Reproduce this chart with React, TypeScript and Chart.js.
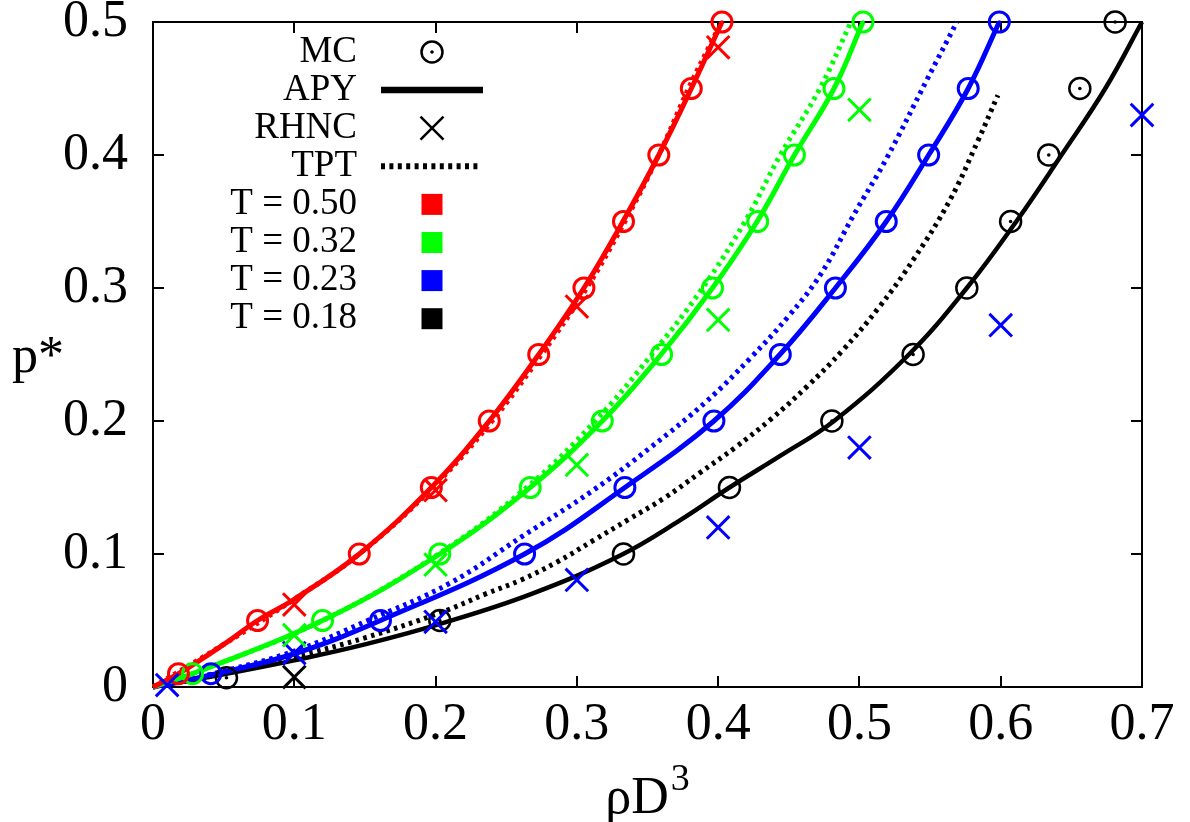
import React, { useEffect, useRef } from 'react';
import { Chart, registerables } from 'chart.js';

Chart.register(...registerables);

// ---- tick labels ----
const xTicks = [0, 0.1, 0.2, 0.3, 0.4, 0.5, 0.6, 0.7];
const yTicks = [0, 0.1, 0.2, 0.3, 0.4, 0.5];

// ---- MC (circles) ----
const mcP = [0.01, 0.05, 0.1, 0.15, 0.2, 0.25, 0.3, 0.35, 0.4, 0.45, 0.5];
const mcRedX = [0.018, 0.074, 0.146, 0.197, 0.238, 0.273, 0.305, 0.333, 0.358, 0.381, 0.4027];
const mcGreenX = [0.028, 0.12, 0.203, 0.267, 0.318, 0.36, 0.396, 0.428, 0.454, 0.482, 0.5025];
const mcBlueX = [0.041, 0.161, 0.263, 0.334, 0.397, 0.444, 0.483, 0.519, 0.549, 0.577, 0.599];
const mcBlackX = [0.052, 0.203, 0.333, 0.408, 0.4805, 0.538, 0.576, 0.607, 0.634, 0.656, 0.681];
const mcBlackP = [0.007, 0.05, 0.1, 0.15, 0.2, 0.25, 0.3, 0.35, 0.4, 0.45, 0.5];

// ---- RHNC (crosses) ----
const rhncRedX = [0.1, 0.2, 0.3, 0.4];
const rhncRedP = [0.062, 0.148, 0.286, 0.481];
const rhncGreenX = [0.1, 0.2, 0.3, 0.4, 0.5];
const rhncGreenP = [0.039, 0.092, 0.167, 0.276, 0.434];
const rhncBlueX = [0.01, 0.1, 0.2, 0.3, 0.4, 0.5, 0.6, 0.7];
const rhncBlueP = [0.0015, 0.0255, 0.049, 0.0805, 0.12, 0.18, 0.272, 0.43];
const rhncBlackX = [0.1];
const rhncBlackP = [0.0075];

// ---- APY (solid) ----
const apyRedX = [0, 0.018, 0.05, 0.074, 0.1, 0.146, 0.197, 0.238, 0.273, 0.305, 0.3326, 0.358, 0.381, 0.4027];
const apyRedP = [0, 0.01, 0.032, 0.05, 0.066, 0.1, 0.15, 0.2, 0.25, 0.3, 0.35, 0.4, 0.45, 0.5];
const apyGreenX = [0, 0.028, 0.12, 0.203, 0.267, 0.318, 0.3596, 0.396, 0.4276, 0.454, 0.482, 0.5025];
const apyGreenP = [0, 0.01, 0.05, 0.1, 0.15, 0.2, 0.25, 0.3, 0.35, 0.4, 0.45, 0.5];
const apyBlueX = [0, 0.041, 0.1, 0.161, 0.263, 0.334, 0.397, 0.4437, 0.483, 0.519, 0.549, 0.577, 0.599];
const apyBlueP = [0, 0.009, 0.025, 0.05, 0.1, 0.15, 0.2, 0.25, 0.3, 0.35, 0.4, 0.45, 0.5];
const apyBlackX = [0, 0.05, 0.1, 0.15, 0.205, 0.268, 0.331, 0.374, 0.408, 0.445, 0.482, 0.535, 0.576, 0.611, 0.643, 0.674, 0.7];
const apyBlackP = [0, 0.0095, 0.02, 0.032, 0.048, 0.07, 0.099, 0.126, 0.15, 0.1745, 0.2, 0.25, 0.3, 0.35, 0.4, 0.45, 0.5];

// ---- TPT (dotted) ----
const tptRedX = [0, 0.05, 0.1, 0.146, 0.198, 0.24, 0.275, 0.307, 0.334, 0.358, 0.379, 0.4];
const tptRedP = [0, 0.032, 0.066, 0.1, 0.15, 0.2, 0.25, 0.3, 0.35, 0.4, 0.45, 0.495];
const tptGreenX = [0, 0.028, 0.12, 0.202, 0.2645, 0.313, 0.353, 0.389, 0.419, 0.444, 0.472, 0.494];
const tptGreenP = [0, 0.01, 0.05, 0.1, 0.15, 0.2, 0.25, 0.3, 0.35, 0.4, 0.45, 0.5];
const tptBlueX = [0, 0.05, 0.1, 0.152, 0.21, 0.261, 0.311, 0.352, 0.392, 0.4225, 0.45, 0.473, 0.496, 0.519, 0.548, 0.569];
const tptBlueP = [0, 0.012, 0.027, 0.05, 0.078, 0.113, 0.1475, 0.18, 0.215, 0.247, 0.279, 0.311, 0.355, 0.397, 0.457, 0.5];
const tptBlackX = [0, 0.05, 0.1, 0.15, 0.203, 0.2355, 0.2606, 0.286, 0.3114, 0.3366, 0.3618, 0.387, 0.412, 0.4375, 0.463, 0.488, 0.5135, 0.5386, 0.564, 0.584, 0.598];
const tptBlackP = [0, 0.01, 0.0226, 0.037, 0.0557, 0.07, 0.0805, 0.094, 0.11, 0.126, 0.142, 0.161, 0.18, 0.2015, 0.226, 0.253, 0.285, 0.322, 0.366, 0.411, 0.445];

// ---- legend labels ----
const legendLabels = ['MC', 'APY', 'RHNC', 'TPT', 'T = 0.50', 'T = 0.32', 'T = 0.23', 'T = 0.18'];
const seriesColors = ['#ff0000', '#00ff00', '#0000ff', '#000000'];

const FONT = '"Liberation Serif", "Times New Roman", serif';

const pts = (xs: number[], ys: number[]) => xs.map((x, i) => ({ x, y: ys[i] }));

function buildDatasets() {
  const mc = [
    pts(mcRedX, mcP), pts(mcGreenX, mcP), pts(mcBlueX, mcP), pts(mcBlackX, mcBlackP),
  ];
  const rhnc = [
    pts(rhncRedX, rhncRedP), pts(rhncGreenX, rhncGreenP), pts(rhncBlueX, rhncBlueP), pts(rhncBlackX, rhncBlackP),
  ];
  const apy = [
    pts(apyRedX, apyRedP), pts(apyGreenX, apyGreenP), pts(apyBlueX, apyBlueP), pts(apyBlackX, apyBlackP),
  ];
  const tpt = [
    pts(tptRedX, tptRedP), pts(tptGreenX, tptGreenP), pts(tptBlueX, tptBlueP), pts(tptBlackX, tptBlackP),
  ];
  const ds: any[] = [];
  seriesColors.forEach((c, i) => {
    const black = i === 3;
    ds.push({
      label: 'TPT' + i, data: tpt[i], showLine: true, borderColor: c, borderWidth: 5,
      borderDash: [3.5, 4.5], pointRadius: 0, tension: 0.4, order: 4, clip: false,
    });
    ds.push({
      label: 'APY' + i, data: apy[i], showLine: true, borderColor: c, borderWidth: black ? 4.5 : 5,
      pointRadius: 0, tension: 0.4, order: 3, clip: false,
    });
    ds.push({
      label: 'MC' + i, data: mc[i], showLine: false, pointStyle: 'circle', pointRadius: black ? 10.5 : 10,
      pointBorderWidth: black ? 2.5 : 3, pointBorderColor: c, pointBackgroundColor: 'rgba(0,0,0,0)', order: 2, clip: false,
    });
    ds.push({
      label: 'MCdot' + i, data: mc[i], showLine: false, pointStyle: 'circle', pointRadius: 1.8,
      pointBorderWidth: 0, pointBackgroundColor: c, pointBorderColor: c, order: 2, clip: false,
    });
    ds.push({
      label: 'RHNC' + i, data: rhnc[i], showLine: false, pointStyle: 'crossRot', pointRadius: 16,
      pointBorderWidth: 3, pointBorderColor: c, order: 1, clip: false,
    });
  });
  return ds;
}

const framePlugin = {
  id: 'frame',
  beforeDatasetsDraw(chart: any) {
    const { ctx, chartArea: a, scales } = chart;
    ctx.save();
    ctx.strokeStyle = '#000';
    ctx.lineWidth = 2;
    ctx.strokeRect(a.left, a.top, a.right - a.left, a.bottom - a.top);
    ctx.lineWidth = 2;
    ctx.beginPath();
    xTicks.forEach((v) => {
      const px = Math.round(scales.x.getPixelForValue(v));
      ctx.moveTo(px, a.bottom);
      ctx.lineTo(px, a.bottom - 11);
      ctx.moveTo(px, a.top);
      ctx.lineTo(px, a.top + 11);
    });
    yTicks.forEach((v) => {
      const py = Math.round(scales.y.getPixelForValue(v));
      ctx.moveTo(a.left, py);
      ctx.lineTo(a.left + 11, py);
      ctx.moveTo(a.right, py);
      ctx.lineTo(a.right - 11, py);
    });
    ctx.stroke();
    ctx.restore();
  },
  afterDraw(chart: any) {
    const { ctx, chartArea: a } = chart;
    ctx.save();
    ctx.fillStyle = '#000';
    // axis titles
    ctx.textAlign = 'left';
    ctx.textBaseline = 'alphabetic';
    ctx.font = `52px ${FONT}`;
    ctx.fillText('p*', 12, 372);
    const cx = (a.left + a.right) / 2;
    ctx.font = `52px ${FONT}`;
    const w1 = ctx.measureText('ρD').width;
    ctx.font = `38px ${FONT}`;
    const w2 = ctx.measureText('3').width;
    const startX = cx - (w1 + w2 + 2) / 2;
    ctx.font = `52px ${FONT}`;
    ctx.fillText('ρD', startX, 813);
    ctx.font = `38px ${FONT}`;
    ctx.fillText('3', startX + w1 + 2, 790);

    // legend
    const textRight = a.left + 204;
    const symX = a.left + 279;
    const row0 = a.top + 30;
    const dy = 38.1;
    ctx.font = `37px ${FONT}`;
    ctx.textAlign = 'right';
    ctx.textBaseline = 'middle';
    legendLabels.forEach((t, i) => {
      ctx.fillStyle = '#000';
      ctx.fillText(t, textRight, row0 + dy * i);
    });
    ctx.strokeStyle = '#000';
    // MC
    let y = row0;
    ctx.lineWidth = 2.5;
    ctx.beginPath();
    ctx.arc(symX, y, 10.5, 0, Math.PI * 2);
    ctx.stroke();
    ctx.beginPath();
    ctx.arc(symX, y, 1.8, 0, Math.PI * 2);
    ctx.fill();
    // APY
    y = row0 + dy;
    ctx.lineWidth = 6.5;
    ctx.beginPath();
    ctx.moveTo(symX - 51, y);
    ctx.lineTo(symX + 51, y);
    ctx.stroke();
    // RHNC
    y = row0 + dy * 2;
    ctx.lineWidth = 2.5;
    ctx.beginPath();
    ctx.moveTo(symX - 11.5, y - 11.5);
    ctx.lineTo(symX + 11.5, y + 11.5);
    ctx.moveTo(symX + 11.5, y - 11.5);
    ctx.lineTo(symX - 11.5, y + 11.5);
    ctx.stroke();
    // TPT
    y = row0 + dy * 3;
    ctx.lineWidth = 6;
    ctx.setLineDash([4, 4.4]);
    ctx.beginPath();
    ctx.moveTo(symX - 51, y);
    ctx.lineTo(symX + 49, y);
    ctx.stroke();
    ctx.setLineDash([]);
    // colour squares
    seriesColors.forEach((c, i) => {
      const yy = row0 + dy * (4 + i);
      ctx.fillStyle = c;
      ctx.fillRect(symX - 10.5, yy - 10.5, 21, 21);
    });
    ctx.restore();
  },
};

const fmt = (v: number) => String(Math.round(v * 10) / 10);

export default function App() {
  const ref = useRef<HTMLCanvasElement>(null);
  useEffect(() => {
    const canvas = ref.current!;
    const tickFont = { family: FONT, size: 52, lineHeight: 0.865 };
    const chart = new Chart(canvas, {
      type: 'scatter',
      data: { datasets: buildDatasets() },
      options: {
        responsive: false,
        animation: false,
        devicePixelRatio: 1,
        events: [],
        layout: { padding: { top: 22, right: 48, left: 0, bottom: 0 } },
        plugins: { legend: { display: false }, tooltip: { enabled: false } },
        scales: {
          x: {
            type: 'linear', min: 0, max: 0.7,
            afterBuildTicks: (s: any) => { s.ticks = xTicks.map((v) => ({ value: v })); },
            afterFit: (s: any) => { s.height = 135; s.paddingLeft = 0; s.paddingRight = 0; s.paddingTop = 0; s.paddingBottom = 0; },
            grid: { display: false, drawTicks: false },
            border: { display: false },
            ticks: { font: tickFont, color: '#000', padding: 15.5, maxRotation: 0, autoSkip: false, callback: (v: any) => fmt(Number(v)) },
          },
          y: {
            type: 'linear', min: 0, max: 0.5,
            afterBuildTicks: (s: any) => { s.ticks = yTicks.map((v) => ({ value: v })); },
            afterFit: (s: any) => { s.width = 153; s.paddingTop = 0; s.paddingBottom = 0; s.paddingLeft = 0; s.paddingRight = 0; },
            grid: { display: false, drawTicks: false },
            border: { display: false },
            ticks: { font: tickFont, color: '#000', padding: 25, autoSkip: false, callback: (v: any) => fmt(Number(v)) },
          },
        },
      } as any,
      plugins: [framePlugin],
    });
    return () => chart.destroy();
  }, []);
  return (
    <div style={{ position: 'fixed', left: 0, top: 0, width: 1190, height: 822, background: '#fff' }}>
      <canvas ref={ref} width={1190} height={822} style={{ display: 'block', width: 1190, height: 822 }} />
    </div>
  );
}
